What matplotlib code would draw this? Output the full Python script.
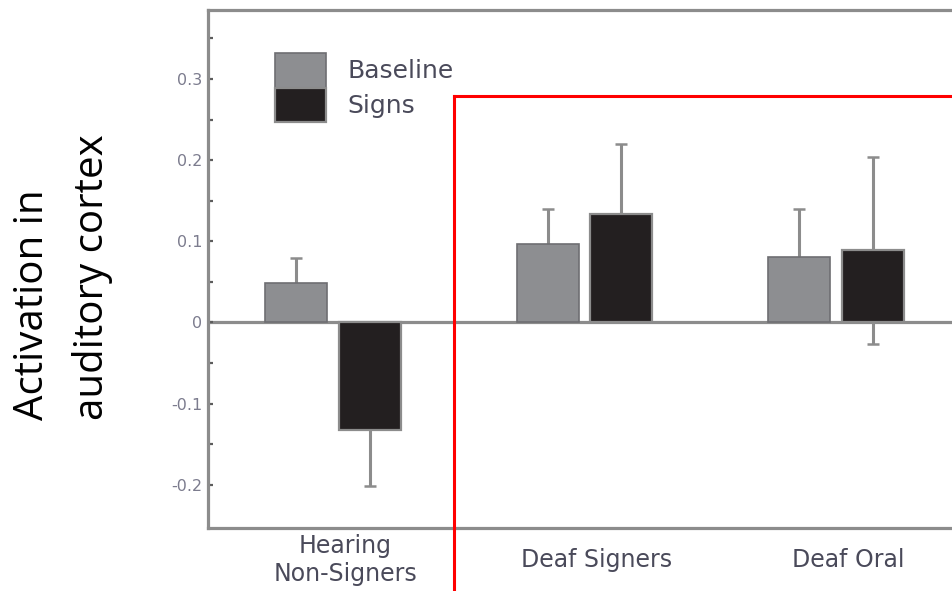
import numpy as np
import matplotlib
matplotlib.use("Agg")
from matplotlib import pyplot as plt
from matplotlib.lines import Line2D
from matplotlib.ticker import FixedLocator, FixedFormatter
import matplotlib.transforms as mtrans

plt.rcParams["axes.unicode_minus"] = False

groups = ["Hearing\nNon-Signers", "Deaf Signers", "Deaf Oral"]
series = ["Baseline", "Signs"]
baseline = [0.049, 0.097, 0.081]
baseline_err = [0.031, 0.043, 0.059]
signs = [-0.132, 0.134, 0.089]
signs_err = [0.069, 0.086, 0.115]
major = [-0.2, -0.1, 0.0, 0.1, 0.2, 0.3]
major_labels = ["-0.2", "-0.1", "0", "0.1", "0.2", "0.3"]
minor = [-0.15, -0.05, 0.05, 0.15, 0.25, 0.35]

W, H = 953, 591
fig = plt.figure(figsize=(W / 100., H / 100.), dpi=100)
ax = fig.add_axes([208. / W, 1 - 528. / H, 1 - 208. / W, (528. - 9.5) / H])

x = np.arange(len(groups))
w = 0.2465
off = 0.146
grey = "#8d8e91"
dark = "#231f20"
lgrey = "#8c8c8c"

ax.axhline(0, color=lgrey, lw=2.3, zorder=1)
ax.errorbar(x - off, baseline, yerr=baseline_err, fmt="none", ecolor=lgrey,
            elinewidth=2.2, capsize=4.5, capthick=1.8, zorder=2)
ax.errorbar(x + off, signs, yerr=signs_err, fmt="none", ecolor=lgrey,
            elinewidth=2.2, capsize=4.5, capthick=1.8, zorder=2)
b1 = ax.bar(x - off, baseline, w, color=grey, edgecolor="#6e6e72", lw=1.2,
            zorder=3, label=series[0])
b2 = ax.bar(x + off, signs, w, color=dark, edgecolor=lgrey, lw=1.6,
            zorder=3, label=series[1])

ax.set_xlim(-0.497, 2.465)
ax.set_ylim(-0.2531, 0.3855)

for s in ["left", "top", "bottom"]:
    ax.spines[s].set_color(lgrey)
    ax.spines[s].set_linewidth(2.3)
ax.spines["right"].set_visible(False)

ax.yaxis.set_major_locator(FixedLocator(major))
ax.yaxis.set_major_formatter(FixedFormatter(major_labels))
ax.yaxis.set_minor_locator(FixedLocator(minor))
ax.tick_params(axis="y", which="both", direction="in", length=3.5, width=1.6,
               color="#5c5c5c", labelsize=11.5, labelcolor="#7c7c8e", pad=4)

ax.set_xticks(x)
ax.set_xticklabels(groups, fontsize=17, color="#4a4a5a", va="center")
ax.tick_params(axis="x", length=0, pad=23)
shift = mtrans.ScaledTranslation(12. / 100, 0, fig.dpi_scale_trans)
for lab in ax.get_xticklabels():
    lab.set_transform(lab.get_transform() + shift)

ax.legend(handles=[b1, b2], loc="upper left",
          bbox_to_anchor=(275. / W, 1 - 53. / H), bbox_transform=fig.transFigure,
          frameon=False, fontsize=18, labelcolor="#4a4a5a",
          handlelength=2.05, handleheight=1.75, labelspacing=0.0,
          handletextpad=0.85, borderpad=0, borderaxespad=0)

fig.text(63. / W, 1 - 277.5 / H, "Activation in\nauditory cortex", rotation=90,
         ha="center", va="center", multialignment="left", fontsize=29,
         family=["Open Sans", "DejaVu Sans"], linespacing=1.6)

# red box marking the deaf groups
fig.add_artist(Line2D([454. / W, 454. / W], [0, 1 - 96. / H], color="#ff0000", lw=2.2))
fig.add_artist(Line2D([454. / W, 1], [1 - 96. / H, 1 - 96. / H], color="#ff0000", lw=2.2))

plt.savefig("out.png", dpi=100)
